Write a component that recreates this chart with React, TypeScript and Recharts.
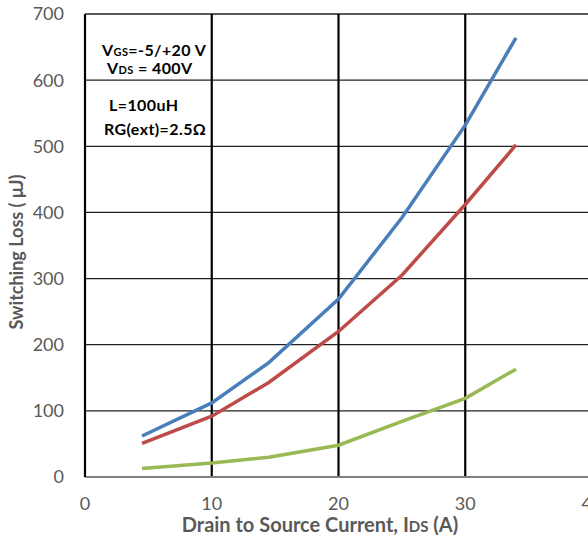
import React from "react";
import { LineChart, Line, XAxis, YAxis, CartesianGrid } from "recharts";

const current = [4.5, 10, 14.5, 20, 25, 30, 34];
const eTotal = [62, 112, 173, 269, 392, 532, 664];
const eOn = [51, 92, 143, 220, 305, 412, 502];
const eOff = [13, 21, 30, 48, 84, 119, 163];
const xTicks = [0, 10, 20, 30, 40];
const yTicks = [0, 100, 200, 300, 400, 500, 600, 700];

const data = current.map((c, i) => ({ current: c, total: eTotal[i], on: eOn[i], off: eOff[i] }));

const FONT = "Lato, 'Open Sans', sans-serif";
const GRAY = "#595959";

export default function App() {
  return (
    <div style={{ position: "absolute", left: 0, top: 0, width: 588, height: 540, overflow: "hidden", background: "#fff" }}>
      <LineChart
        width={610}
        height={540}
        data={data}
        margin={{ top: 14, right: 18, left: 25, bottom: 33 }}
      >
        <CartesianGrid vertical={false} stroke="#222" strokeWidth={1.3} />
        <CartesianGrid horizontal={false} stroke="#000" strokeWidth={2.2} />
        <XAxis
          dataKey="current"
          type="number"
          domain={[0, 40]}
          ticks={xTicks}
          tickLine={false}
          tickSize={0}
          tickMargin={20}
          stroke="#808080"
          strokeWidth={2}
          height={30}
          tick={{ fill: GRAY, fontSize: 18, fontFamily: FONT }}
        />
        <YAxis
          type="number"
          domain={[0, 700]}
          ticks={yTicks}
          tickLine={false}
          tickSize={0}
          tickMargin={21}
          stroke="#000"
          strokeWidth={2}
          width={60}
          tick={{ fill: GRAY, fontSize: 18, fontFamily: FONT }}
        />
        <Line dataKey="total" stroke="#4a7ebb" strokeWidth={3.5} dot={false} isAnimationActive={false} type="linear" />
        <Line dataKey="on" stroke="#be4b48" strokeWidth={3.5} dot={false} isAnimationActive={false} type="linear" />
        <Line dataKey="off" stroke="#98b954" strokeWidth={3.5} dot={false} isAnimationActive={false} type="linear" />
      </LineChart>
      <svg width={588} height={540} style={{ position: "absolute", left: 0, top: 0, pointerEvents: "none" }}>
        <g fontFamily={FONT} fontWeight="bold" fill="#000" fontSize={16}>
          <text x={102} y={56} letterSpacing={0.4}>V<tspan fontSize={11}>GS</tspan>=-5/+20 V</text>
          <text x={107} y={74} letterSpacing={0.4}>V<tspan fontSize={11}>DS</tspan> = 400V</text>
          <text x={109} y={111} letterSpacing={0.4}>L=100uH</text>
          <text x={104} y={135} letterSpacing={0.4}>RG(ext)=2.5Ω</text>
        </g>
        <text
          x={0}
          y={0}
          transform="translate(23,252) rotate(-90)"
          textAnchor="middle"
          fontFamily={FONT}
          fontWeight="bold"
          fontSize={18}
          fill={GRAY}
        >
          Switching Loss ( μJ)
        </text>
        <text x={320} y={532} textAnchor="middle" fontFamily={FONT} fontWeight="bold" fontSize={20} fill={GRAY}>
          Drain to Source Current, I<tspan fontSize={15}>DS</tspan> (A)
        </text>
      </svg>
    </div>
  );
}
